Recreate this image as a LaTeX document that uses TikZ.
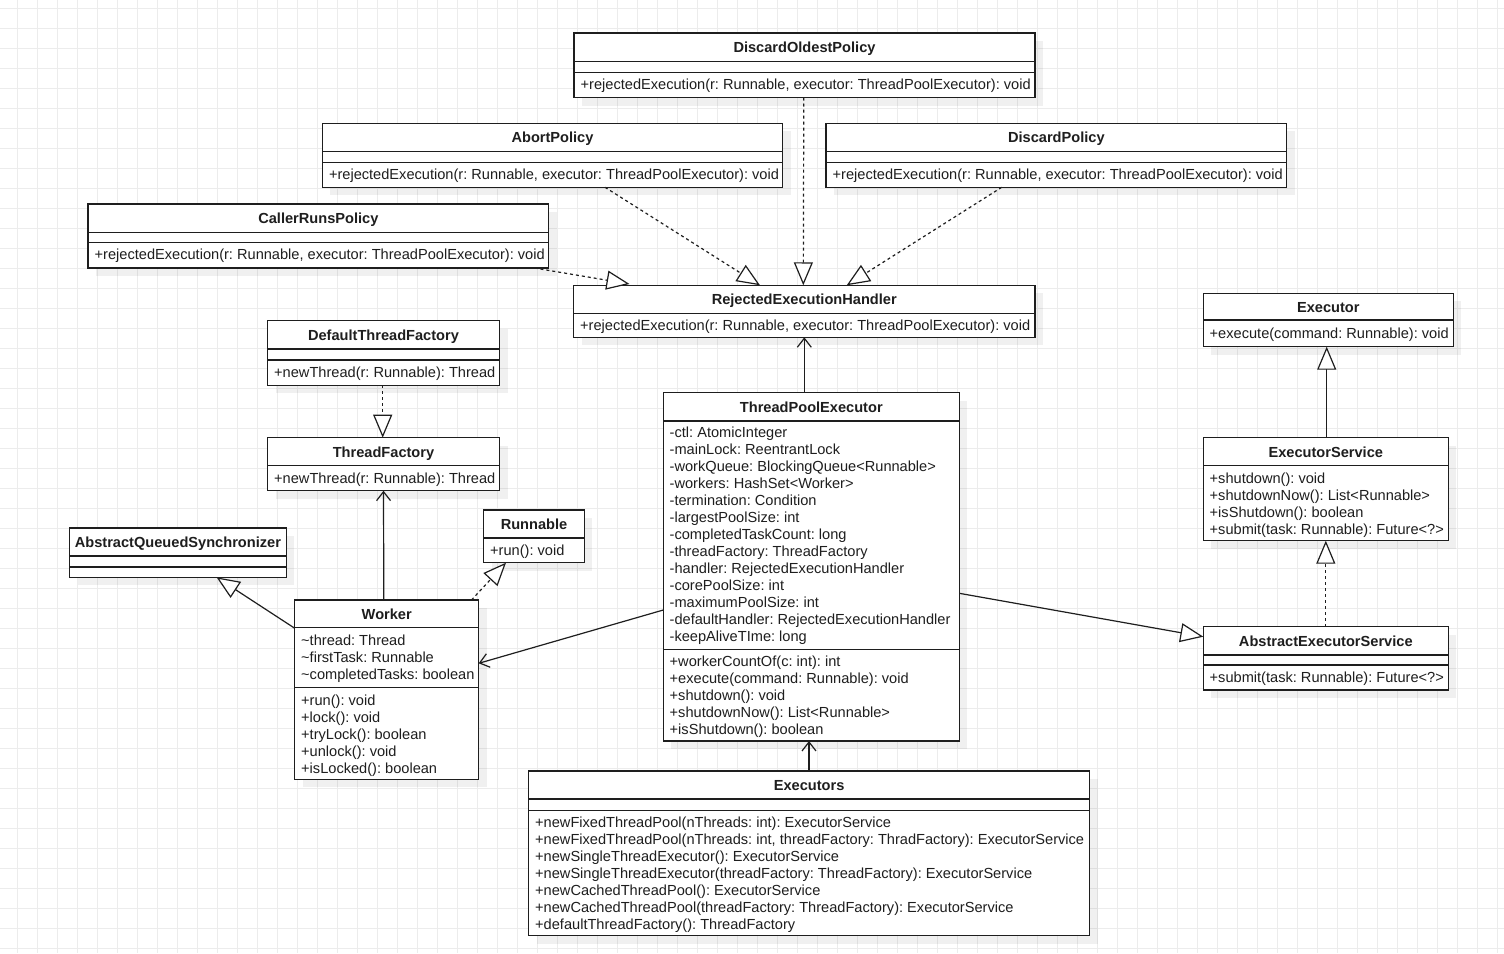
\documentclass[tikz,border=0pt]{standalone}
\usepackage{fontspec}
\setmainfont{Liberation Sans}
\usetikzlibrary{arrows.meta,calc}
\definecolor{gridc}{RGB}{236,236,236}
\definecolor{ink}{RGB}{30,30,30}
\tikzset{
  classbox/.style={draw=ink, line width=1.3pt, fill=white, inner sep=0pt, outer sep=0pt, rectangle},
  divider/.style={draw=ink, line width=1.2pt},
  ttl/.style={font=\fontsize{14.6}{17}\selectfont\bfseries\frenchspacing, text=ink, inner sep=0pt, anchor=base},
  mbr/.style={font=\fontsize{14.6}{17}\selectfont\frenchspacing, text=ink, inner sep=0pt, anchor=base west},
  realize/.style={draw=ink, line width=1.2pt, dash pattern=on 3pt off 3pt, -{Triangle[length=23pt,width=19pt,fill=white]}},
  inherit/.style={draw=ink, line width=1.2pt, -{Triangle[length=23pt,width=19pt,fill=white]}},
  assoc/.style={draw=ink, line width=1.2pt, -{Straight Barb[length=9pt,width=14pt]}},
  gridline/.style={draw=gridc, line width=1pt},
  shadowfill/.style={fill=black, fill opacity=0.06},
}
\newcommand\umlbox[5]{%
  \fill[shadowfill] (#2+8,#3+8) rectangle (#4+8,#5+8);
  \node[classbox, anchor=north west, minimum width=#4pt-#2pt, minimum height=#5pt-#3pt] (#1) at (#2,#3) {};
}
\newcommand\umltitle[5]{\node[ttl] (#1-t) at ({(#2+#3)/2},#4) {#5};}
\newcommand\umlline[3]{\draw[divider] (#1,#3) -- (#2,#3);}
\newcommand\umlmembers[4]{%
  \foreach \s [count=\i] in {#4} {\node[mbr] (#1-\i) at (#2,{#3+(\i-1)*17}) {\s};}
}
\begin{document}
\begin{tikzpicture}[x=1pt,y=-1pt]
\useasboundingbox (0,0) rectangle (1504,953);
\fill[white] (0,0) rectangle (1504,953);
\foreach \x in {17.3,37.3,...,1504} {\draw[gridline] (\x,0) -- (\x,953);}
\foreach \y in {8.3,28.3,...,953} {\draw[gridline] (0,\y) -- (1504,\y);}

% DiscardOldestPolicy
\umlbox{dop}{574}{33}{1035}{97.5}
\umltitle{dop}{574}{1035}{52.5}{DiscardOldestPolicy}
\umlline{574}{1035}{61.5}\umlline{574}{1035}{72.3}
\umlmembers{dop-m}{580.5}{89}{{+rejectedExecution(r: Runnable, executor: ThreadPoolExecutor): void}}

% AbortPolicy
\umlbox{abort}{322.3}{123.3}{782.7}{187.3}
\umltitle{abort}{322.3}{782.7}{142.8}{AbortPolicy}
\umlline{322.3}{782.7}{151.7}\umlline{322.3}{782.7}{162.3}
\umlmembers{abort-m}{328.8}{179.3}{{+rejectedExecution(r: Runnable, executor: ThreadPoolExecutor): void}}

% DiscardPolicy
\umlbox{discard}{826}{123.3}{1286.7}{187.3}
\umltitle{discard}{826}{1286.7}{142.8}{DiscardPolicy}
\umlline{826}{1286.7}{151.7}\umlline{826}{1286.7}{162.3}
\umlmembers{discard-m}{832.5}{179.3}{{+rejectedExecution(r: Runnable, executor: ThreadPoolExecutor): void}}

% CallerRunsPolicy
\umlbox{crp}{88}{204}{548.7}{268}
\umltitle{crp}{88}{548.7}{223.5}{CallerRunsPolicy}
\umlline{88}{548.7}{232.3}\umlline{88}{548.7}{242.7}
\umlmembers{crp-m}{94.5}{259.7}{{+rejectedExecution(r: Runnable, executor: ThreadPoolExecutor): void}}

% RejectedExecutionHandler
\umlbox{rjh}{573.5}{285.3}{1035}{337.3}
\umltitle{rjh}{573.5}{1035}{304.6}{RejectedExecutionHandler}
\umlline{573.5}{1035}{313.3}
\umlmembers{rjh-m}{580}{330.5}{{+rejectedExecution(r: Runnable, executor: ThreadPoolExecutor): void}}

% DefaultThreadFactory
\umlbox{dtf}{267.5}{320.7}{499.5}{385.3}
\umltitle{dtf}{267.5}{499.5}{340.2}{DefaultThreadFactory}
\umlline{267.5}{499.5}{349}\umlline{267.5}{499.5}{360}
\umlmembers{dtf-m}{274}{377.2}{{+newThread(r: Runnable): Thread}}

% ThreadFactory
\umlbox{tf}{267.5}{437.7}{499.5}{490.7}
\umltitle{tf}{267.5}{499.5}{457}{ThreadFactory}
\umlline{267.5}{499.5}{465.7}
\umlmembers{tf-m}{274}{483}{{+newThread(r: Runnable): Thread}}

% AbstractQueuedSynchronizer
\umlbox{aqs}{69.6}{528}{286.2}{577.3}
\umltitle{aqs}{69.6}{286.2}{547.3}{AbstractQueuedSynchronizer}
\umlline{69.6}{286.2}{556}\umlline{69.6}{286.2}{567}

% Runnable
\umlbox{runnable}{483.6}{510}{584.4}{562.7}
\umltitle{runnable}{483.6}{584.4}{529.3}{Runnable}
\umlline{483.6}{584.4}{538}
\umlmembers{runnable-m}{490}{555.5}{{+run(): void}}

% Worker
\umlbox{worker}{294.8}{600}{478.7}{779.3}
\umltitle{worker}{294.8}{478.7}{619.2}{Worker}
\umlline{294.8}{478.7}{627.7}\umlline{294.8}{478.7}{687.7}
\umlmembers{worker-a}{301}{645.5}{{\textasciitilde thread: Thread},{\textasciitilde firstTask: Runnable},{\textasciitilde completedTasks: boolean}}
\umlmembers{worker-m}{301}{705.5}{{+run(): void},{+lock(): void},{+tryLock(): boolean},{+unlock(): void},{+isLocked(): boolean}}

% ThreadPoolExecutor
\umlbox{tpe}{663.3}{392.7}{959.3}{741}
\umltitle{tpe}{663.3}{959.3}{412.2}{ThreadPoolExecutor}
\umlline{663.3}{959.3}{421}\umlline{663.3}{959.3}{649.3}
\umlmembers{tpe-a}{669.5}{437.8}{{-ctl: AtomicInteger},{-mainLock: ReentrantLock},{-workQueue: BlockingQueue<Runnable>},{-workers: HashSet<Worker>},{-termination: Condition},{-largestPoolSize: int},{-completedTaskCount: long},{-threadFactory: ThreadFactory},{-handler: RejectedExecutionHandler},{-corePoolSize: int},{-maximumPoolSize: int},{-defaultHandler: RejectedExecutionHandler},{-keepAliveTIme: long}}
\umlmembers{tpe-m}{669.5}{666.5}{{+workerCountOf(c: int): int},{+execute(command: Runnable): void},{+shutdown(): void},{+shutdownNow(): List<Runnable>},{+isShutdown(): boolean}}

% Executor
\umlbox{executor}{1203.3}{293.3}{1453.3}{346.7}
\umltitle{executor}{1203.3}{1453.3}{312}{Executor}
\umlline{1203.3}{1453.3}{320}
\umlmembers{executor-m}{1209.5}{338}{{+execute(command: Runnable): void}}

% ExecutorService
\umlbox{es}{1203.3}{437.7}{1448.3}{540.7}
\umltitle{es}{1203.3}{1448.3}{457}{ExecutorService}
\umlline{1203.3}{1448.3}{465.7}
\umlmembers{es-m}{1209.5}{483.8}{{+shutdown(): void},{+shutdownNow(): List<Runnable>},{+isShutdown(): boolean},{+submit(task: Runnable): Future<?>}}

% AbstractExecutorService
\umlbox{aes}{1203.3}{626.7}{1448.3}{690}
\umltitle{aes}{1203.3}{1448.3}{646.2}{AbstractExecutorService}
\umlline{1203.3}{1448.3}{655}\umlline{1203.3}{1448.3}{665}
\umlmembers{aes-m}{1209.5}{682}{{+submit(task: Runnable): Future<?>}}

% Executors
\umlbox{executors}{528.5}{771}{1089.7}{935.7}
\umltitle{executors}{528.5}{1089.7}{790.3}{Executors}
\umlline{528.5}{1089.7}{799}\umlline{528.5}{1089.7}{810.3}
\umlmembers{executors-m}{535}{827}{{+newFixedThreadPool(nThreads: int): ExecutorService},{+newFixedThreadPool(nThreads: int, threadFactory: ThradFactory): ExecutorService},{+newSingleThreadExecutor(): ExecutorService},{+newSingleThreadExecutor(threadFactory: ThreadFactory): ExecutorService},{+newCachedThreadPool(): ExecutorService},{+newCachedThreadPool(threadFactory: ThreadFactory): ExecutorService},{+defaultThreadFactory(): ThreadFactory}}

% connectors
\draw[realize] ([xshift=-0.7pt]dop.south) -- ([xshift=-0.95pt]rjh.north);
\draw[realize] ([xshift=282.7pt]abort.south west) -- ([xshift=186.5pt]rjh.north west);
\draw[realize] ([xshift=175.7pt]discard.south west) -- ([xshift=273.2pt]rjh.north west);
\draw[realize] ([xshift=446.5pt]crp.south west) -- ([xshift=56pt,yshift=1.3pt]rjh.north west);
\draw[assoc] ([xshift=141pt]tpe.north west) -- ([xshift=230.8pt]rjh.south west);
\draw[realize] ([xshift=-0.8pt]dtf.south) -- ([xshift=-0.8pt]tf.north);
\draw[assoc] ([xshift=89pt]worker.north west) -- ([xshift=116pt]tf.south west);
\draw[realize] ([xshift=176.7pt]worker.north west) -- ([xshift=22.4pt]runnable.south west);
\draw[inherit] ([yshift=-28.3pt]worker.north west) -- ([xshift=147pt]aqs.south west);
\draw[assoc] ([yshift=-217.3pt]tpe.north west) -- ([yshift=-63.3pt]worker.north east);
\draw[inherit] ([yshift=-200.6pt]tpe.north east) -- ([yshift=-10pt]aes.north west);
\draw[inherit] ([xshift=123.4pt]es.north west) -- ([xshift=123.4pt]executor.south west);
\draw[realize] (aes.north) -- (es.south);
\draw[assoc] ([xshift=280.5pt]executors.north west) -- ([xshift=145.7pt]tpe.south west);
\end{tikzpicture}
\end{document}
